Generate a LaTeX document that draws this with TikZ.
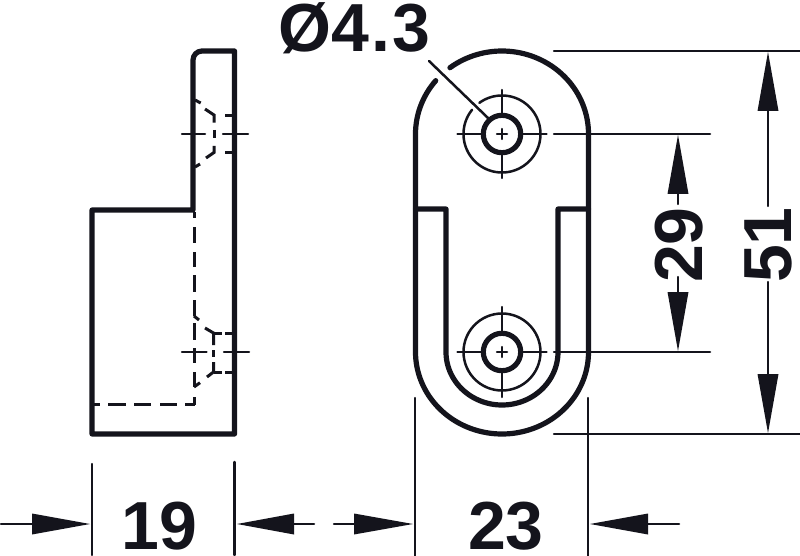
\documentclass[tikz,border=0pt]{standalone}
\usepackage{fontspec}
\setmainfont{Liberation Sans}
\definecolor{ink}{HTML}{14141C}
\tikzset{
  profile/.style={draw=ink,line width=5.2pt,line join=round,line cap=round},
  thinline/.style={draw=ink,line width=2.5pt,line cap=round},
  holering/.style={draw=ink,line width=5.2pt},
  holecircle/.style={draw=ink,line width=2.5pt,line cap=round},
  hidden/.style={draw=ink,line width=3pt,line cap=butt},
  dimlabel/.style={font=\fontsize{68}{68}\selectfont\bfseries,text=ink,inner sep=0pt,anchor=base}
}
\newcommand{\harrow}[3]{\fill[ink] (#1,#3) -- (#2,#3-10.5) -- (#2,#3+10.5) -- cycle;}
\newcommand{\varrow}[3]{\fill[ink] (#3,#1) -- (#3-10.5,#2) -- (#3+10.5,#2) -- cycle;}
\begin{document}
\begin{tikzpicture}[x=1pt,y=-1pt]
\useasboundingbox (0,0) rectangle (800,556);
\fill[white] (0,0) rectangle (800,556);
% side view
\draw[profile] (193,210) -- (193,60) arc[start angle=180,end angle=90,radius=9pt] -- (234.5,51) -- (234.5,434) -- (92,434) -- (92,210) -- cycle;
% hidden edges
\foreach \a/\b in {212/218,227/243,252/267,275/292,300/316,323/340,348/363,372/387,397/404.7}
  \draw[hidden] (194,\a) -- (194,\b);
\foreach \a/\b in {92/100,108/126,134/151,160/177,185/195}
  \draw[hidden] (\a,404.7) -- (\b,404.7);
\draw[hidden] (194,316) -- (199,320);
\draw[hidden] (205,328) -- (213.5,333) -- (213.5,345);
\draw[hidden] (213.5,350) -- (213.5,357);
\draw[hidden] (213.5,362) -- (213.5,372) -- (207,377);
\draw[hidden] (200,382.7) -- (194,387);
\foreach \a/\b in {213.5/222,225/232}{
  \draw[hidden] (\a,333) -- (\b,333);
  \draw[hidden] (\a,372) -- (\b,372);
}
\draw[hidden] (195,100) -- (200.7,103);
\draw[hidden] (205,109) -- (214,115) -- (214,122.7);
\draw[hidden] (214,130) -- (214,138);
\draw[hidden] (214,146) -- (214,152.5) -- (206,158);
\draw[hidden] (200,164) -- (195,167);
\foreach \a/\b in {225/232}{
  \draw[hidden] (\a,115.3) -- (\b,115.3);
  \draw[hidden] (\a,152.7) -- (\b,152.7);
}
% side view centre lines
\draw[thinline] (182,134) -- (205,134);
\draw[thinline] (223,134) -- (248,134);
\draw[thinline] (182,352) -- (206.5,352);
\draw[thinline] (224,352) -- (249,352);
% front view outline
\draw[profile] plot[domain=127:0,samples=50] ({502+86.5*cos(\x)},{134-83*sin(\x)})
  -- plot[domain=0:-180,samples=90] ({502+86.5*cos(\x)},{352-82*sin(\x)})
  -- plot[domain=180:140,samples=16] ({502+86.5*cos(\x)},{134-83*sin(\x)});
% inner U
\draw[profile] (415.5,209) -- (446,209) -- plot[domain=180:360,samples=90] ({502+56*cos(\x)},{352-53*sin(\x)}) -- (558,209) -- (588.5,209);
% holes
\foreach \cy/\vt/\vb in {134/90/178,352/307/397}{
  \draw[holering] (502,\cy) circle[radius=18.7pt];
  \draw[thinline] (457.5,\cy) -- (483,\cy);
  \draw[thinline] (521,\cy) -- (546.5,\cy);
  \draw[thinline] (502,\vt) -- (502,\cy-19);
  \draw[thinline] (502,\cy+19) -- (502,\vb);
  \draw[thinline] (497,\cy) -- (507,\cy);
  \draw[thinline] (502,\cy-5) -- (502,\cy+5);
}
\draw[holecircle] (502,352) circle[radius=38.5pt];
\draw[holecircle] plot[domain=126:-219,samples=120] ({502+38.5*cos(\x)},{134-38.5*sin(\x)});
% labels
\node[dimlabel] (d19) at (159.5,549) {19};
\node[dimlabel] (d23) at (506,549) {23};
\node[dimlabel] (d43) at (354.5,52) {Ø4\kern2pt.\kern2pt 3};
\node[dimlabel,rotate=90] (d29) at (702,245) {29};
\node[dimlabel,rotate=90] (d51) at (791,245) {51};
% leader
\draw[thinline] (429,61) -- (488,118);
% dimension extension lines
\draw[thinline] (554,51) -- (800,51);
\draw[thinline] (554,134) -- (710,134);
\draw[thinline] (554,352) -- (710,352);
\draw[thinline] (554,434) -- (800,434);
\draw[thinline] (92,464) -- (92,555);
\draw[thinline] (234.5,462) -- (234.5,555);
\draw[thinline] (415,398) -- (415,556);
\draw[thinline] (588,398) -- (588,556);
% dimension 51
\draw[thinline] (768,100) -- (768,206);
\draw[thinline] (768,282) -- (768,380);
\varrow{52}{111}{768}
\varrow{433}{374}{768}
% dimension 29
\draw[thinline] (678,190) -- (678,204);
\draw[thinline] (678,277) -- (678,296);
\varrow{135}{194}{678}
\varrow{351}{292}{678}
% dimension 19
\draw[thinline] (1,524) -- (40,524);
\draw[thinline] (285,524) -- (314,524);
\harrow{90}{32}{524}
\harrow{237}{294}{524}
% dimension 23
\draw[thinline] (334,524) -- (360,524);
\draw[thinline] (640,524) -- (679,524);
\harrow{413}{354}{524}
\harrow{590}{648}{524}
\end{tikzpicture}
\end{document}
